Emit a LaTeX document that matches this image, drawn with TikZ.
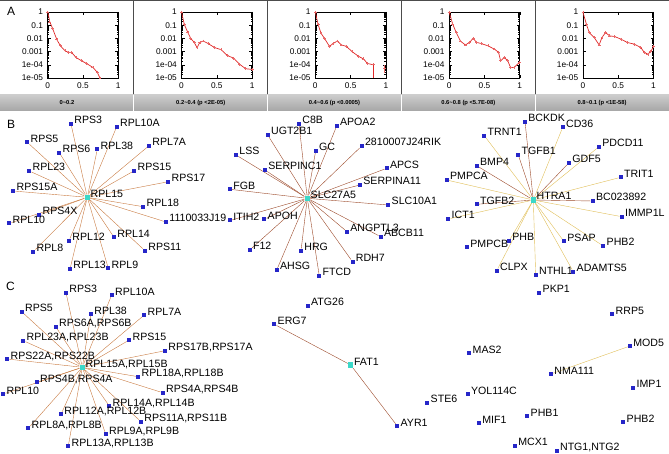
\documentclass[tikz,border=0pt]{standalone}
\usepackage{fontspec}
\setmainfont{Liberation Sans}
\usetikzlibrary{backgrounds}
\definecolor{geneblue}{HTML}{2626C8}
\definecolor{hubcyan}{HTML}{3CD8C8}
\definecolor{edgeorange}{HTML}{C87A40}
\definecolor{edgebrown}{HTML}{9C4A2A}
\definecolor{edgeyellow}{HTML}{E0BE58}
\definecolor{curvered}{HTML}{E02828}

\tikzset{
  gene/.style={fill=geneblue, inner sep=0pt, minimum size=4pt},
  hubgene/.style={fill=hubcyan, inner sep=0pt, minimum size=5.5pt},
  genelab/.style={anchor=base west, inner sep=0pt, font=\fontsize{10.6}{12}\selectfont},
  panellab/.style={anchor=west, inner sep=0pt, font=\fontsize{12}{13}\selectfont},
  ticklab/.style={inner sep=0.5pt, font=\fontsize{8.3}{9}\selectfont},
  striplab/.style={font=\bfseries\fontsize{5.8}{7}\selectfont},
  distcurve/.style={curvered, line width=0.7pt, mark=+, mark size=1.4pt, mark options={curvered!70}},
}

% frame, ticks and tick labels of one distribution plot
\newcommand{\distframe}{%
  \draw[line width=0.6pt] (0,0) rectangle (1,-5);
  \foreach \d/\t in {0/1,1/0.1,2/0.01,3/0.001,4/1e-04,5/1e-05} {
    \draw (0,-\d) -- ++(3pt,0);
    \draw (1,-\d) -- ++(-3pt,0);
    \node[ticklab, anchor=east] at ([xshift=-4pt]0,-\d) {\t};
  }
  \foreach \d in {0,...,4} \foreach \m in {2,...,9} {
    \draw[line width=0.3pt] (0,{log10(\m)-\d-1}) -- ++(1.5pt,0);
    \draw[line width=0.3pt] (1,{log10(\m)-\d-1}) -- ++(-1.5pt,0);
  }
  \foreach \v in {0,0.5,1} {
    \draw (\v,-5) -- ++(0,3pt);
    \draw (\v,0) -- ++(0,-3pt);
    \node[ticklab, anchor=north] at ([yshift=-4pt]\v,-5) {\v};
  }
}

\begin{document}
\begin{tikzpicture}[x=1pt, y=-1pt]
  \useasboundingbox (0,0) rectangle (669,454);

  % A: distributions
  \draw[gray!60!black, line width=0.8pt] (0,0.5) -- (669,0.5);
  \foreach \k in {1,...,4}
    \draw[gray!60!black, line width=0.8pt] (133.8*\k,0) -- (133.8*\k,95);
  \shade[top color=gray!40, bottom color=gray!70] (0,95) rectangle (669,111);
  \foreach \k in {1,...,4}
    \draw[white, line width=1pt] (133.8*\k,95) -- (133.8*\k,111);
  \foreach \k/\t in {0/{0\textasciitilde0.2}, 1/{0.2\textasciitilde0.4 (p <2E-05)},
      2/{0.4\textasciitilde0.6 (p <0.0005)}, 3/{0.6\textasciitilde0.8 (p <5.7E-08)},
      4/{0.8\textasciitilde0.1 (p <1E-58)}}
    \node[striplab] (strip\k) at (66.9+133.8*\k,103) {\t};
  \node[panellab] (labA) at (7,11.5) {A};

  \begin{scope}[shift={(47.7,12)}, x=70.6pt, y=13.2pt]
    \distframe
    \draw[distcurve] plot coordinates {(0,0) (0.03,-0.75) (0.07,-1.26) (0.13,-2.1) (0.18,-2.56)
      (0.245,-2.94) (0.29,-3.05) (0.34,-3.07) (0.4,-3.44) (0.48,-3.7) (0.55,-3.9) (0.64,-4.2)
      (0.7,-4.55) (0.74,-5)};
  \end{scope}
  \begin{scope}[shift={(181.5,12)}, x=70.6pt, y=13.2pt]
    \distframe
    \draw[distcurve] plot coordinates {(0,0) (0.04,-0.95) (0.09,-1.55) (0.13,-2.0) (0.18,-2.3)
      (0.22,-2.7) (0.26,-2.3) (0.31,-2.2) (0.38,-2.4) (0.47,-2.7) (0.56,-2.85) (0.65,-3.3)
      (0.74,-3.5) (0.82,-3.95) (0.91,-4.3) (1.0,-4.35)};
  \end{scope}
  \begin{scope}[shift={(315.3,12)}, x=70.6pt, y=13.2pt]
    \distframe
    \draw[distcurve] plot coordinates {(0,0) (0.04,-0.95) (0.08,-1.6) (0.13,-2.0) (0.2,-2.6)
      (0.25,-2.4) (0.31,-2.2) (0.37,-2.5) (0.44,-2.6) (0.52,-3.0) (0.61,-3.35) (0.68,-3.55)
      (0.74,-3.9) (0.82,-4.0)};
    \draw[curvered, line width=0.7pt] (0.82,-4.0) -- (0.82,-5);
    \draw[distcurve] plot coordinates {(0.98,-4.3)};
    \draw[curvered!70] (0.98,-4.0) -- (0.98,-4.6);
  \end{scope}
  \begin{scope}[shift={(449.1,12)}, x=70.6pt, y=13.2pt]
    \distframe
    \draw[distcurve] plot coordinates {(0,0) (0.05,-0.9) (0.1,-1.55) (0.16,-2.2) (0.23,-2.5)
      (0.29,-2.3) (0.34,-2.0) (0.39,-2.3) (0.46,-2.4) (0.55,-2.56) (0.64,-2.81) (0.7,-3.05)
      (0.73,-3.7) (0.78,-3.44) (0.83,-3.69) (0.87,-4.2) (0.92,-4.2) (1.0,-3.8)};
  \end{scope}
  \begin{scope}[shift={(582.9,12)}, x=70.6pt, y=13.2pt]
    \distframe
    \draw[distcurve] plot coordinates {(0,0) (0.05,-0.93) (0.09,-1.56) (0.16,-1.93) (0.23,-2.49)
      (0.27,-1.93) (0.32,-1.56) (0.38,-1.81) (0.45,-1.86) (0.54,-2.06) (0.63,-2.31) (0.73,-2.44)
      (0.82,-2.69) (0.87,-3.07) (0.92,-3.19) (0.96,-3.0) (1.0,-2.64)};
  \end{scope}

  % B: human networks
  \node[panellab] (labB) at (7,124) {B};
  \node[hubgene] (rpl15) at (87.3,197.3) {};
  \node[genelab] at ([xshift=3.2pt]rpl15.center) {RPL15};
  \node[hubgene] (slc27a5) at (307.3,198.3) {};
  \node[genelab] at ([xshift=3.2pt]slc27a5.center) {SLC27A5};
  \node[hubgene] (htra1) at (533.3,200) {};
  \node[genelab] at ([xshift=3.2pt]htra1.center) {HTRA1};
  \foreach \n/\x/\y/\t in {rps3/71/124/RPS3, rpl10a/116.7/126.7/RPL10A, rps5/27.3/142.3/RPS5,
      rps6/59.3/152.7/RPS6, rpl38/97.3/149.3/RPL38, rpl7a/149/145.7/RPL7A, rpl23/29.3/171/RPL23,
      rps15/134.3/170.7/RPS15, rps17/168.3/181.7/RPS17, rps15a/13.3/191/RPS15A,
      rpl18/143.3/206.7/RPL18, rps4x/39.3/215/RPS4X, rpl10/9.3/223.3/RPL10,
      j19/166/222/1110033J19, rpl12/69/240.7/RPL12, rpl14/114/237.3/RPL14, rpl8/33.3/251.7/RPL8,
      rps11/145/250.7/RPS11, rpl13/70/269/RPL13, rpl9/108.3/268.3/RPL9,
      c8b/299/124/C8B, apoa2/336.7/126/APOA2, ugt2b1/267.7/135/UGT2B1, gc/315.7/150.7/GC,
      rik/361.7/146/2810007J24RIK, lss/236/155/LSS, serpinc1/265/170/SERPINC1,
      apcs/386.7/168.3/APCS, serpina11/360/185/SERPINA11, fgb/230/189.3/FGB,
      slc10a1/388.3/205/SLC10A1, itih2/230/220.5/ITIH2, apoh/264.3/219.3/APOH,
      angptl3/347/231.7/ANGPTL3, abcb11/380.7/236.7/ABCB11, f12/249.7/250/F12,
      hrg/301/250.7/HRG, rdh7/352.5/261.7/RDH7, ahsg/276.7/270/AHSG, ftcd/319.3/276/FTCD,
      bckdk/525/121.7/BCKDK, cd36/562.7/127.3/CD36, trnt1/484.3/135.7/TRNT1,
      pdcd11/599/146.7/PDCD11, tgfb1/518.3/155/TGFB1, gdf5/569/162.7/GDF5, bmp4/476.7/165.7/BMP4,
      trit1/620.7/177.3/TRIT1, pmpca/446.7/180/PMPCA, tgfb2/476.7/204.3/TGFB2,
      bc023892/592.7/201/BC023892, ict1/448.3/219/ICT1, immp1l/621.7/216.7/IMMP1L,
      pmpcb/467/247.5/PMPCB, phb/509/241/PHB, psap/564/241.5/PSAP, phbii/603.3/246/PHB2,
      clpx/496.7/270.7/CLPX, nthl1/535.7/275/NTHL1, adamts5/573.3/271.7/ADAMTS5,
      pkp1/539.3/293/PKP1} {
    \node[gene] (\n) at (\x,\y) {};
    \node[genelab] at ([xshift=3.2pt]\n.center) {\t};
  }

  % C: yeast networks
  \node[panellab] (labC) at (6,286) {C};
  \node[hubgene] (crpl15) at (82.3,367.3) {};
  \node[genelab] at ([xshift=3.2pt]crpl15.center) {RPL15A,RPL15B};
  \node[hubgene] (fat1) at (350.7,365) {};
  \node[genelab] at ([xshift=3.2pt]fat1.center) {FAT1};
  \foreach \n/\x/\y/\t in {crps3/66/292.7/RPS3, crpl10a/111.7/295/RPL10A, crps5/21.7/311.7/RPS5,
      crpl38/91/314/RPL38, crpl7a/144.3/315/RPL7A, crps6/55.7/326.7/{RPS6A,RPS6B},
      crpl23/23.3/340.7/{RPL23A,RPL23B}, crps15/129.3/340/RPS15,
      crps17/165/350.7/{RPS17B,RPS17A}, crps22/7.3/359/{RPS22A,RPS22B},
      crpl18/138.3/376.7/{RPL18A,RPL18B}, crps4b/36.7/382.3/{RPS4B,RPS4A},
      crpl10/3.3/394/RPL10, crps4a/162.7/392.7/{RPS4A,RPS4B},
      crpl14/109.3/406/{RPL14A,RPL14B}, crpl12/61/414.3/{RPL12A,RPL12B},
      crps11/141/421.7/{RPS11A,RPS11B}, crpl8/28.3/428.3/{RPL8A,RPL8B},
      crpl9/105.7/434/{RPL9A,RPL9B}, crpl13/68.3/446/{RPL13A,RPL13B},
      atg26/307.7/305.7/ATG26, erg7/274.3/324.3/ERG7, ayr1/397.3/426/AYR1, ste6/427.3/402.7/STE6,
      rrp5/612.3/314/RRP5, mod5/630/346/MOD5, mas2/469.3/353.3/MAS2, nma111/551/374/NMA111,
      yol114c/467.7/394.3/YOL114C, imp1/633.3/387.7/IMP1, phbi/527.3/416/PHB1,
      mif1/479/423.3/MIF1, yphb2/623.3/422.3/PHB2, mcx1/515/445.7/MCX1,
      ntg/556.7/450.7/{NTG1,NTG2}} {
    \node[gene] (\n) at (\x,\y) {};
    \node[genelab] at ([xshift=3.2pt]\n.center) {\t};
  }

  % edges behind the nodes
  \begin{scope}[on background layer]
    \foreach \n in {rps3,rpl10a,rps5,rps6,rpl38,rpl7a,rpl23,rps15,rps17,rps15a,rpl18,rps4x,
        rpl10,j19,rpl12,rpl14,rpl8,rps11,rpl13,rpl9}
      \draw[edgeorange] (rpl15) -- (\n);
    \foreach \n in {c8b,apoa2,ugt2b1,gc,rik,lss,serpinc1,apcs,serpina11,fgb,slc10a1,itih2,
        apoh,angptl3,abcb11,f12,hrg,rdh7,ahsg,ftcd}
      \draw[edgebrown] (slc27a5) -- (\n);
    \foreach \n in {bckdk,tgfb1,bmp4,gdf5,tgfb2,bc023892}
      \draw[edgebrown] (htra1) -- (\n);
    \foreach \n in {trnt1,cd36,pdcd11,trit1,pmpca,ict1,immp1l,phb,psap,phbii,clpx,nthl1,adamts5}
      \draw[edgeyellow] (htra1) -- (\n);
    \foreach \n in {crps3,crpl10a,crps5,crpl38,crpl7a,crps6,crpl23,crps15,crps17,crps22,crpl18,
        crps4b,crpl10,crps4a,crpl14,crpl12,crps11,crpl8,crpl9,crpl13}
      \draw[edgeorange] (crpl15) -- (\n);
    \draw[edgebrown] (fat1) -- (erg7);
    \draw[edgebrown] (fat1) -- (ayr1);
    \draw[edgeyellow] (nma111) -- (mod5);
  \end{scope}
\end{tikzpicture}
\end{document}
